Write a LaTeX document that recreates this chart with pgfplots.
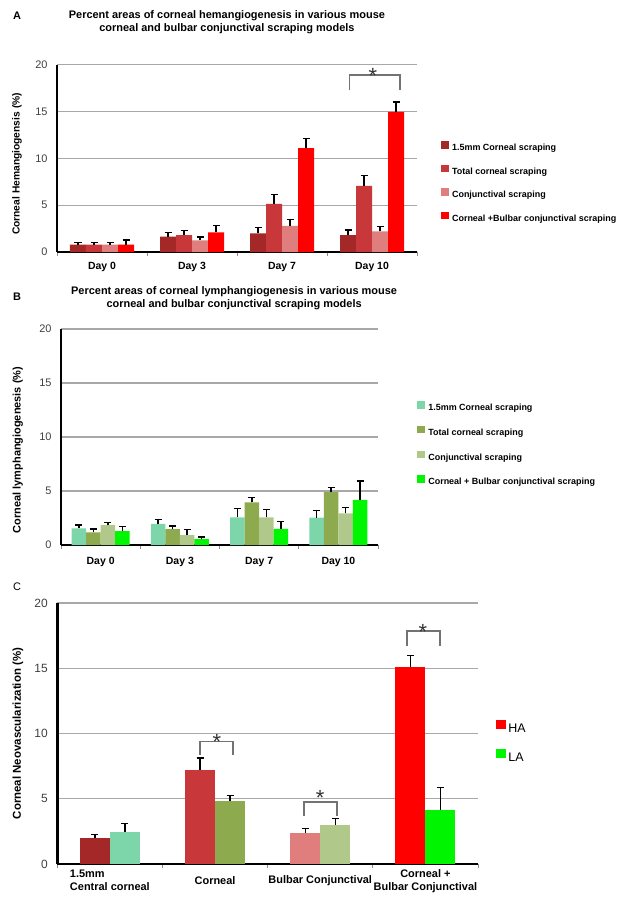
\documentclass[border=0pt]{standalone}
\usepackage{fontspec}
\setmainfont{Liberation Sans}
\usepackage{pgfplots}
\pgfplotsset{compat=1.18}

% hemangiogenesis (reds) and lymphangiogenesis (greens)
\definecolor{ha1}{HTML}{A52828}
\definecolor{ha2}{HTML}{C8373A}
\definecolor{ha3}{HTML}{E07D7D}
\definecolor{ha4}{HTML}{FF0000}
\definecolor{la1}{HTML}{7DD6A9}
\definecolor{la2}{HTML}{8EAA4E}
\definecolor{la3}{HTML}{B0C98B}
\definecolor{la4}{HTML}{00F500}
\definecolor{gridc}{HTML}{A8A8A8}

\newcommand{\fs}[2]{\fontsize{#1}{#2}\selectfont}

\tikzset{sigstar/.style={font=\fs{22}{22}, text=black!80, anchor=center}}

\pgfplotsset{
  panel/.style={
    scale only axis, ybar, clip=false,
    ymin=0, ymax=20, ytick={0,5,10,15,20},
    xmin=-0.5, xmax=3.5, xtick={0,1,2,3},
    minor xtick={-0.5,0.5,1.5,2.5,3.5},
    axis x line*=bottom, axis y line*=left,
    axis line style={-, line width=2.4bp, black},
    ymajorgrids, grid style={draw=gridc, line width=1.1bp},
    major tick length=0pt, minor tick length=4bp, tick align=outside,
    minor x tick style={draw=black!45, line width=0.8bp},
    /pgf/number format/assume math mode=true,
    yticklabel style={font=\fs{11}{13}, text=black!75, anchor=east, xshift=-6bp},
    xticklabel style={font=\bfseries\fs{10.5}{13}, anchor=center, yshift=-15bp},
    error bars/y dir=plus, error bars/y explicit,
    error bars/error bar style={black, line width=1.3bp},
    error bars/error mark options={rotate=90, black, line width=1.3bp, mark size=3.5bp},
    legend cell align=left,
    legend image code/.code={\fill[##1] (0bp,-0.5bp) rectangle (7.5bp,7bp);},
    legend style={draw=none, fill=none, anchor=west, font=\bfseries\fs{9}{11},
      row sep=11bp, column sep=2bp, nodes={inner sep=1.5bp}},
  },
  bracket/.style={sharp plot, no marks, draw=black!55, line width=1.4bp,
    forget plot, error bars/y dir=none},
}

\begin{document}
\begin{tikzpicture}
\path (0,0) rectangle (624bp,-904bp);

\node[font=\bfseries\fs{11}{13}] at (17bp,-16bp) {A};
\node[font=\bfseries\fs{11}{13}] at (17bp,-297bp) {B};
\node[font=\fs{11}{13}] at (17bp,-587bp) {C};

% ---------- A: hemangiogenesis ----------
\begin{axis}[panel, at={(57bp,-252bp)}, anchor=south west,
  width=360bp, height=187.3bp, bar width=16bp,
  xticklabels={Day 0, Day 3, Day 7, Day 10},
  title={Percent areas of corneal hemangiogenesis in various mouse\\corneal and bulbar conjunctival scraping models},
  title style={at={(axis description cs:0.472,1.193)}, anchor=center, align=center, font=\bfseries\fs{11}{13}},
  ylabel={Corneal Hemangiogensis (\%)},
  ylabel style={at={(axis description cs:-0.111,0.47)}, anchor=center, font=\bfseries\fs{10.3}{12}},
  legend style={at={(axis description cs:1.058,0.371)}},
]
\addplot[fill=ha1, draw=none, bar shift=-24bp] coordinates {(0,0.78) +- (0,0.22) (1,1.63) +- (0,0.47) (2,2.0) +- (0,0.6) (3,1.8) +- (0,0.54)};
\addplot[fill=ha2, draw=none, bar shift=-8bp] coordinates {(0,0.8) +- (0,0.2) (1,1.8) +- (0,0.47) (2,5.14) +- (0,1.03) (3,7.06) +- (0,1.13)};
\addplot[fill=ha3, draw=none, bar shift=8bp] coordinates {(0,0.78) +- (0,0.22) (1,1.24) +- (0,0.36) (2,2.8) +- (0,0.64) (3,2.2) +- (0,0.53)};
\addplot[fill=ha4, draw=none, bar shift=24bp] coordinates {(0,0.78) +- (0,0.5) (1,2.1) +- (0,0.74) (2,11.1) +- (0,1.03) (3,14.96) +- (0,1.07)};
\legend{1.5mm Corneal scraping, Total corneal scraping, Conjunctival scraping, Corneal +Bulbar conjunctival scraping}
\addplot[bracket] coordinates {(2.75,17.3) (2.75,18.9) (3.31,18.9) (3.31,17.3)};
\node[sigstar] at (axis cs:3.01,18.75) {*};
\end{axis}

% ---------- B: lymphangiogenesis ----------
\begin{axis}[panel, at={(61bp,-545bp)}, anchor=south west,
  width=317bp, height=216bp, bar width=14.5bp,
  xticklabels={Day 0, Day 3, Day 7, Day 10},
  xticklabel style={yshift=-2bp},
  title={Percent areas of corneal lymphangiogenesis in various mouse\\corneal and bulbar conjunctival scraping models},
  title style={at={(axis description cs:0.546,1.116)}, anchor=center, align=center, font=\bfseries\fs{11}{13}},
  ylabel={Corneal lymphangiogenesis (\%)},
  ylabel style={at={(axis description cs:-0.136,0.44)}, anchor=center, font=\bfseries\fs{11}{13}},
  legend style={at={(axis description cs:1.114,0.465)}, row sep=12.2bp},
]
\addplot[fill=la1, draw=none, bar shift=-21.75bp] coordinates {(0,1.53) +- (0,0.31) (1,1.96) +- (0,0.43) (2,2.57) +- (0,0.8) (3,2.54) +- (0,0.68)};
\addplot[fill=la2, draw=none, bar shift=-7.25bp] coordinates {(0,1.16) +- (0,0.31) (1,1.47) +- (0,0.28) (2,3.95) +- (0,0.43) (3,4.9) +- (0,0.4)};
\addplot[fill=la3, draw=none, bar shift=7.25bp] coordinates {(0,1.84) +- (0,0.27) (1,0.92) +- (0,0.49) (2,2.57) +- (0,0.74) (3,2.94) +- (0,0.55)};
\addplot[fill=la4, draw=none, bar shift=21.75bp] coordinates {(0,1.29) +- (0,0.43) (1,0.55) +- (0,0.18) (2,1.5) +- (0,0.7) (3,4.17) +- (0,1.77)};
\legend{1.5mm Corneal scraping, Total corneal scraping, Conjunctival scraping, Corneal + Bulbar conjunctival scraping}
\end{axis}

% ---------- C: HA vs LA ----------
\begin{axis}[panel, at={(57.3bp,-864bp)}, anchor=south west,
  width=420.7bp, height=261bp, bar width=30bp,
  yticklabel style={font=\fs{12}{14}},
  xticklabels={{\begin{tabular}{@{}l@{}}1.5mm\\Central corneal\end{tabular}}, Corneal, Bulbar Conjunctival, {Corneal +\\Bulbar Conjunctival}},
  xticklabel style={align=center, font=\bfseries\fs{11}{13}, yshift=-2bp},
  ylabel={Corneal Neovascularization (\%)},
  ylabel style={at={(axis description cs:-0.0934,0.5)}, anchor=center, font=\bfseries\fs{11.5}{13}},
  legend image code/.code={\fill[#1] (0bp,-0.2bp) rectangle (10bp,8.8bp);},
  legend style={at={(axis description cs:1.036,0.467)}, font=\fs{12.5}{14}, row sep=13.5bp, column sep=0.5bp},
]
\addplot[fill=ha1, draw=none, bar shift=-15bp, forget plot] coordinates {(0,1.97) +- (0,0.28)};
\addplot[fill=la1, draw=none, bar shift=15bp, forget plot] coordinates {(0,2.45) +- (0,0.67)};
\addplot[fill=ha2, draw=none, bar shift=-15bp, forget plot] coordinates {(1,7.2) +- (0,0.92)};
\addplot[fill=la2, draw=none, bar shift=15bp, forget plot] coordinates {(1,4.85) +- (0,0.39)};
\addplot[fill=ha3, draw=none, bar shift=-15bp, forget plot] coordinates {(2,2.38) +- (0,0.35)};
\addplot[fill=la3, draw=none, bar shift=15bp, forget plot] coordinates {(2,2.99) +- (0,0.51)};
\addplot[fill=ha4, draw=none, bar shift=-15bp, forget plot] coordinates {(3,15.1) +- (0,0.9)};
\addplot[fill=la4, draw=none, bar shift=15bp, forget plot] coordinates {(3,4.14) +- (0,1.71)};
\addlegendimage{fill=ha4, draw=none}
\addlegendentry{HA}
\addlegendimage{fill=la4, draw=none}
\addlegendentry{LA}
\addplot[bracket] coordinates {(0.856,8.35) (0.856,9.37) (1.17,9.37) (1.17,8.35)};
\addplot[bracket] coordinates {(1.845,3.65) (1.845,4.75) (2.159,4.75) (2.159,3.65)};
\addplot[bracket] coordinates {(2.824,16.7) (2.824,17.85) (3.138,17.85) (3.138,16.7)};
\node[sigstar] at (axis cs:1.018,9.35) {*};
\node[sigstar] at (axis cs:2.0,5.05) {*};
\node[sigstar] at (axis cs:2.976,17.75) {*};
\end{axis}
\end{tikzpicture}
\end{document}
